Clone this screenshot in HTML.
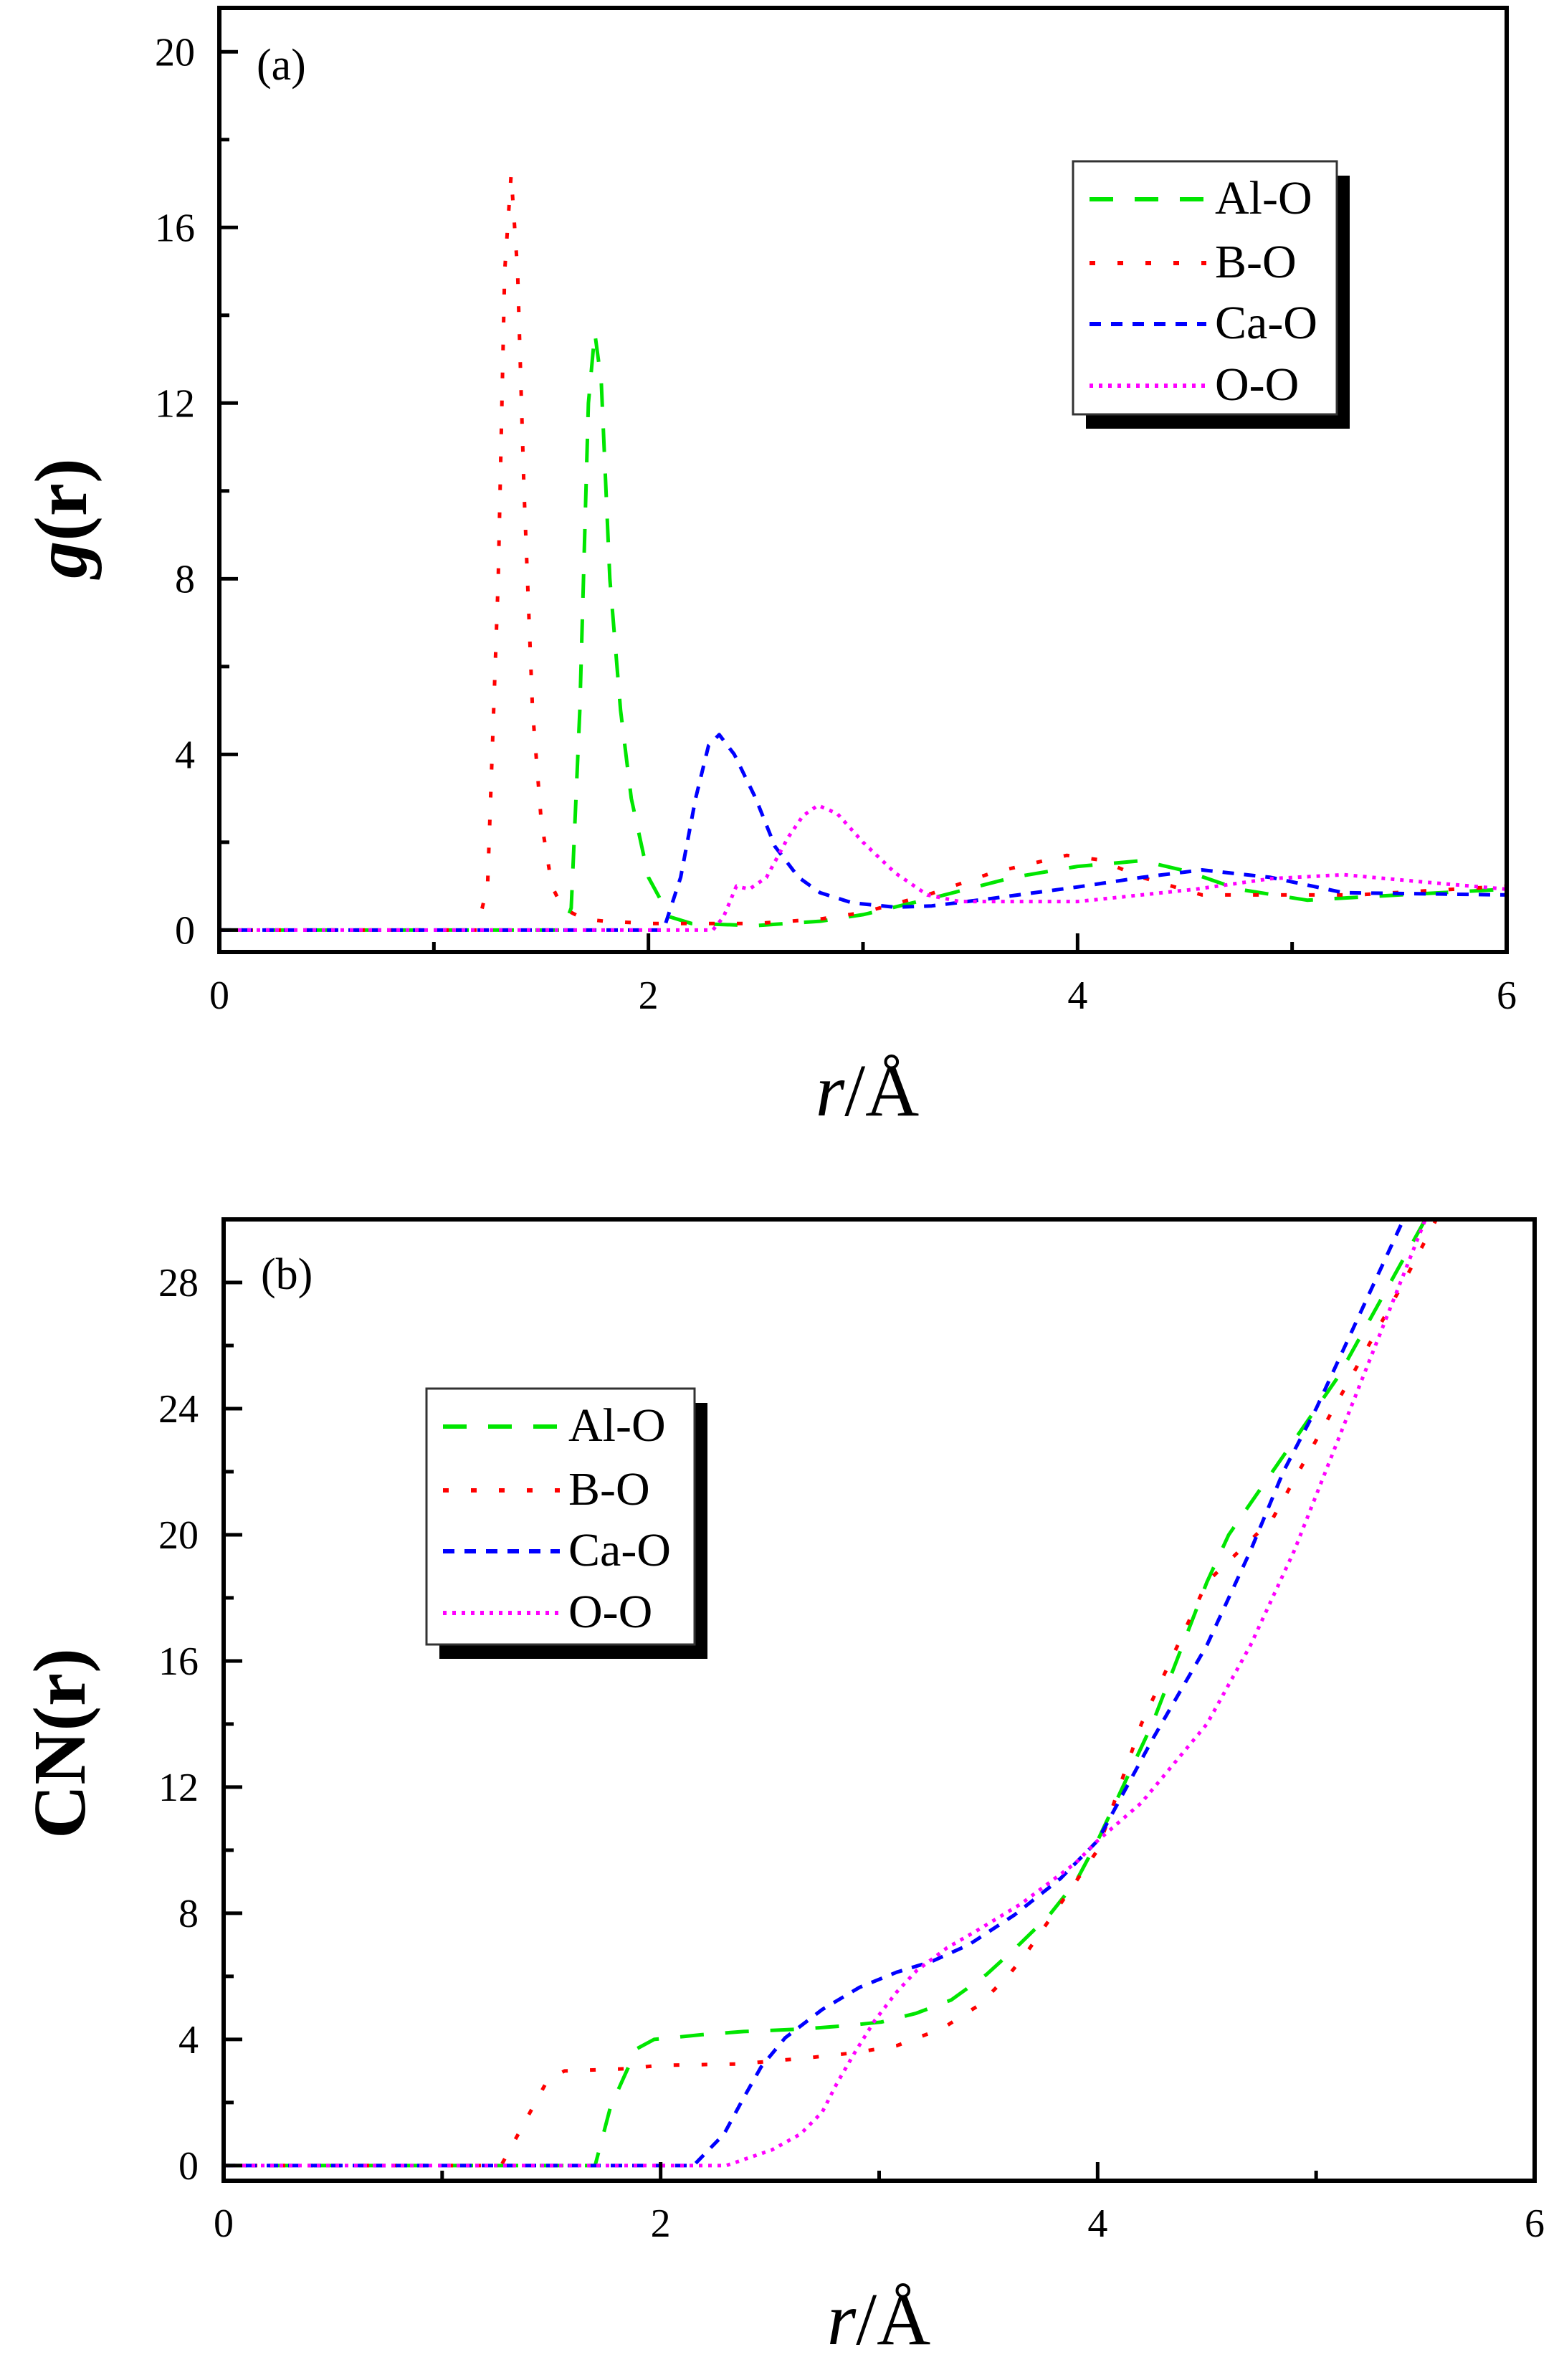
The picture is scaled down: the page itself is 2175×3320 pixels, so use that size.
<!DOCTYPE html>
<html><head><meta charset="utf-8"><style>
html,body{margin:0;padding:0;background:#fff}
svg{display:block}
text{font-family:"Liberation Serif",serif;fill:#000}
</style></head><body>
<svg id="fig" width="2175" height="3320" viewBox="0 0 2175 3320" xmlns="http://www.w3.org/2000/svg">
<rect x="0" y="0" width="2175" height="3320" fill="#fff"/>
<g id="pa"></g>
<g id="pb"></g>
</svg>
<script>
// ---------- Panel (a) data: g(r) ----------
const gAlO_r = [0,1.6,1.64,1.68,1.72,1.75,1.78,1.82,1.87,1.92,2.0,2.1,2.2,2.5,2.8,3.0,3.3,3.7,4.0,4.3,4.5,4.75,5.07,5.5,6];
const gAlO_v = [0,0,0.5,5,12,13.6,12.5,8,5,3,1.2,0.3,0.15,0.1,0.2,0.35,0.7,1.2,1.45,1.58,1.35,0.93,0.68,0.8,0.93];
const gBO_r = [0,1.2,1.25,1.3,1.33,1.36,1.39,1.42,1.46,1.5,1.55,1.6,1.7,1.8,2.0,2.5,2.8,3.0,3.3,3.6,3.95,4.1,4.3,4.58,5.3,6];
const gBO_v = [0,0,1,8,15,17.2,15,10,5,2.5,1.0,0.5,0.25,0.2,0.15,0.15,0.25,0.4,0.8,1.3,1.7,1.6,1.2,0.8,0.8,1.0];
const gCaO_r = [0,2.07,2.15,2.22,2.28,2.33,2.4,2.5,2.59,2.7,2.8,2.95,3.15,3.32,3.6,4.0,4.3,4.58,4.9,5.24,6];
const gCaO_v = [0,0,1.2,3,4.2,4.45,4.0,3.0,1.9,1.2,0.85,0.62,0.52,0.55,0.72,0.98,1.2,1.37,1.2,0.85,0.8];
const gOO_r = [0,2.3,2.35,2.41,2.47,2.55,2.65,2.72,2.79,2.88,3.0,3.15,3.3,3.45,4.0,4.16,4.55,4.9,5.24,5.6,6];
const gOO_v = [0,0,0.3,1.0,0.93,1.2,2.1,2.6,2.84,2.65,2.0,1.3,0.8,0.65,0.65,0.73,0.93,1.17,1.26,1.1,0.93];
const aXTicks = [0,2,4,6];
const aXMinor = [1,3,5];
const aYTicks = [0,4,8,12,16,20];
const aYMinor = [2,6,10,14,18];

// ---------- Panel (b) data: CN(r) ----------
const cAlO_r = [0,1.7,1.77,1.89,1.97,2.19,2.38,2.65,2.84,3.01,3.17,3.33,3.49,3.64,3.78,3.9,4.0,4.25,4.5,4.6,4.85,5.1,5.3,5.5];
const cAlO_v = [0,0,1.85,3.7,4.0,4.15,4.25,4.33,4.43,4.55,4.83,5.25,6.05,7.0,7.95,9.0,10.3,14,18.5,20,22.5,25,27.5,30];
const cBO_r = [0,1.27,1.48,1.56,1.84,2.0,2.36,2.68,2.89,3.08,3.29,3.46,3.6,3.67,3.81,4.0,4.2,4.4,4.5,4.8,5.0,5.2,5.4,5.55];
const cBO_v = [0,0,2.68,3.0,3.07,3.18,3.22,3.42,3.58,3.8,4.35,5.1,6.1,6.7,8.1,10,14,17,18.5,20.5,23,25.5,28,30];
const cCaO_r = [0,2.15,2.29,2.38,2.46,2.57,2.74,2.91,3.08,3.24,3.41,3.62,3.83,4.0,4.25,4.5,4.7,4.85,5.0,5.2,5.4];
const cCaO_v = [0,0,1.0,2.15,3.13,4.05,4.95,5.65,6.13,6.47,7.0,7.95,9.1,10.3,13.5,16.5,19.5,22,24,27,30];
const cOO_r = [0,2.3,2.51,2.64,2.74,2.81,2.89,2.98,3.08,3.17,3.31,3.46,3.65,3.9,4.0,4.2,4.5,4.7,4.9,5.1,5.3,5.5];
const cOO_v = [0,0,0.5,1.0,1.7,2.65,3.6,4.6,5.5,6.17,6.9,7.5,8.3,9.6,10.3,11.5,14,16.5,19.5,23,26.5,30];
const bXTicks = [0,2,4,6];
const bXMinor = [1,3,5];
const bYTicks = [0,4,8,12,16,20,24,28];
const bYMinor = [2,6,10,14,18,22,26];

const seriesNames = ["Al-O","B-O","Ca-O","O-O"];
const NS = "http://www.w3.org/2000/svg";
const styles = [
  {color:"#00e600", dash:"33 30"},
  {color:"#ff0000", dash:"8 31"},
  {color:"#0000ff", dash:"16 14"},
  {color:"#ff00ff", dash:"5 8"}
];
function mk(tag, attrs, parent){
  const e = document.createElementNS(NS, tag);
  for (const k in attrs) e.setAttribute(k, attrs[k]);
  parent.appendChild(e);
  return e;
}
function panel(g, P, id){
  const sx = v => P.left + (v - P.xmin) / (P.xmax - P.xmin) * (P.right - P.left);
  const sy = v => P.bottom - (v - P.ymin) / (P.ymax - P.ymin) * (P.bottom - P.top);
  const defs = mk('defs', {}, g);
  const cp = mk('clipPath', {id:'clip'+id}, defs);
  mk('rect', {x:P.left, y:P.top, width:P.right-P.left, height:P.bottom-P.top}, cp);
  // series
  const sg = mk('g', {'clip-path':'url(#clip'+id+')'}, g);
  P.series.forEach((s, i) => {
    const pts = s.r.map((r, j) => sx(r).toFixed(1) + ',' + sy(s.v[j]).toFixed(1)).join(' ');
    const pl = mk('polyline', {points:pts, fill:'none', stroke:styles[i].color, 'stroke-width':5, 'stroke-dasharray':styles[i].dash, 'stroke-linejoin':'round'}, sg);
    
    
  });
  // frame
  const fr = mk('rect', {x:P.left, y:P.top, width:P.right-P.left, height:P.bottom-P.top, fill:'none', stroke:'#000', 'stroke-width':6}, g);
  
  
  // x ticks
  P.xt.forEach(v => {
    const t = mk('line', {x1:sx(v), x2:sx(v), y1:P.bottom, y2:P.bottom-26, stroke:'#000', 'stroke-width':5}, g);
    
    
    const l = mk('text', {x:sx(v), y:P.xLabelY, 'font-size':56, 'text-anchor':'middle'}, g);
    l.textContent = v;
    
    
  });
  P.xm.forEach(v => {
    const t = mk('line', {x1:sx(v), x2:sx(v), y1:P.bottom, y2:P.bottom-14, stroke:'#000', 'stroke-width':5}, g);
    
    
  });
  P.yt.forEach(v => {
    const t = mk('line', {x1:P.left, x2:P.left+26, y1:sy(v), y2:sy(v), stroke:'#000', 'stroke-width':5}, g);
    
    
    const l = mk('text', {x:P.yLabelX, y:sy(v)+19, 'font-size':56, 'text-anchor':'end'}, g);
    l.textContent = v;
    
    
  });
  P.ym.forEach(v => {
    const t = mk('line', {x1:P.left, x2:P.left+14, y1:sy(v), y2:sy(v), stroke:'#000', 'stroke-width':5}, g);
    
    
  });
  // panel label
  const pl = mk('text', {x:P.left+52, y:P.top+P.tagDy, 'font-size':62}, g);
  pl.textContent = P.tag;
  
  
  // x title
  const xt = mk('text', {x:P.xTitleX, y:P.xTitleY, 'font-size':104, 'text-anchor':'middle'}, g);
  xt.innerHTML = '<tspan font-style="italic">r</tspan>/Å';
  
  
  // y title
  const yt = mk('text', {x:0, y:0, 'font-size':104, 'text-anchor':'middle', 'font-weight':'bold', transform:'translate(' + P.yTitleX + ',' + P.yTitleY + ') rotate(-90)'}, g);
  yt.innerHTML = P.yTitle;
  
  
  // legend
  const L = P.legend;
  const lg = mk('g', {}, g);
  
  
  mk('rect', {x:L.x+18, y:L.y+20, width:L.w, height:L.h, fill:'#000'}, lg);
  mk('rect', {x:L.x, y:L.y, width:L.w, height:L.h, fill:'#fff', stroke:'#333', 'stroke-width':3}, lg);
  const rows = [73, 162, 247, 333];
  seriesNames.forEach((n, i) => {
    const yy = L.y + rows[i];
    const ln = mk('line', {x1:L.x+23, x2:L.x+186, y1:yy-20, y2:yy-20, stroke:styles[i].color, 'stroke-width':6, 'stroke-dasharray':styles[i].dash}, lg);
    
    
    const tx = mk('text', {x:L.x+198, y:yy, 'font-size':66}, lg);
    tx.textContent = n;
    
    
  });
}
panel(document.getElementById('pa'), {
  left:306, right:2102, top:11, bottom:1328, xmin:0, xmax:6, ymin:-0.5, ymax:21.0,
  series:[{r:gAlO_r,v:gAlO_v},{r:gBO_r,v:gBO_v},{r:gCaO_r,v:gCaO_v},{r:gOO_r,v:gOO_v}],
  xt:aXTicks, xm:aXMinor, yt:aYTicks, ym:aYMinor, xLabelY:1407, yLabelX:272,
  tag:'(a)', tagDy:100, xTitleX:1210, xTitleY:1556, yTitleX:120, yTitleY:723, yTitle:'<tspan font-style="italic">g</tspan>(r)',
  legend:{x:1497, y:225, w:368, h:353}
}, 'a');
panel(document.getElementById('pb'), {
  left:312, right:2141, top:1701, bottom:3042, xmin:0, xmax:6, ymin:-0.48, ymax:30,
  series:[{r:cAlO_r,v:cAlO_v},{r:cBO_r,v:cBO_v},{r:cCaO_r,v:cCaO_v},{r:cOO_r,v:cOO_v}],
  xt:bXTicks, xm:bXMinor, yt:bYTicks, ym:bYMinor, xLabelY:3120, yLabelX:277,
  tag:'(b)', tagDy:97, xTitleX:1226, xTitleY:3270, yTitleX:118, yTitleY:2432, yTitle:'CN(r)',
  legend:{x:595, y:1937, w:374, h:357}
}, 'b');
</script>
</body></html>
